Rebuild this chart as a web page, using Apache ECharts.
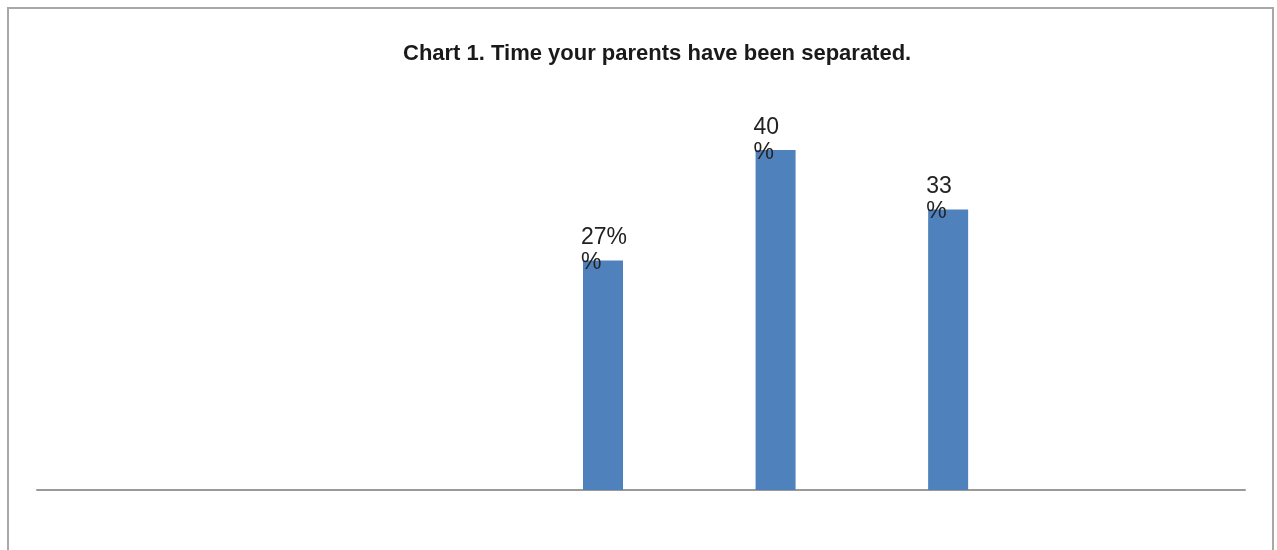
<!DOCTYPE html>
<html>
<head>
<meta charset="utf-8">
<script src="https://cdn.jsdelivr.net/npm/echarts@6/dist/echarts.min.js"></script>
<style>
html,body{margin:0;padding:0;background:#fff;}
#c{width:1277px;height:550px;}
</style>
</head>
<body>
<div id="c"></div>
<script>
var title = 'Chart 1. Time your parents have been separated.';
var categories = ['', '', '', '', '', '', ''];
var values = [null, null, null, 27, 40, 33, null];
var emptySeries = [null, null, null, null, null, null, null];
var labelTexts = ['', '', '', '27%\n%', '40\n%', '33\n%', ''];

var chart = echarts.init(document.getElementById('c'));
chart.setOption({
  animation: false,
  backgroundColor: '#ffffff',
  title: {
    text: title,
    left: 398,
    top: 38,
    textStyle: {fontFamily: 'Liberation Sans, Arial, sans-serif', fontWeight: 'bold', fontSize: 22, color: '#1a1a1a'}
  },
  graphic: [{
    type: 'rect',
    shape: {x: 8, y: 8, width: 1265, height: 600},
    style: {fill: 'none', stroke: '#a8a8a8', lineWidth: 2},
    silent: true
  }],
  grid: {left: 37, right: 32, top: 65, bottom: 60},
  xAxis: {
    type: 'category',
    data: categories,
    axisLine: {show: true, lineStyle: {color: '#9a9a9a', width: 2}},
    axisTick: {show: false},
    axisLabel: {show: false},
    splitLine: {show: false}
  },
  yAxis: {
    type: 'value',
    min: 0,
    max: 50,
    show: false,
    splitLine: {show: false}
  },
  series: [{
    type: 'bar',
    data: values,
    barWidth: 40,
    barGap: '90%',
    itemStyle: {color: '#4F81BD'},
    label: {
      show: true,
      position: [-2, -35],
      align: 'left',
      verticalAlign: 'top',
      fontFamily: 'Liberation Sans, Arial, sans-serif',
      fontSize: 23,
      lineHeight: 25,
      color: '#222',
      formatter: function (p) { return labelTexts[p.dataIndex]; }
    }
  }, {
    type: 'bar',
    data: emptySeries,
    barWidth: 40,
    itemStyle: {color: '#C0504D'}
  }]
});
</script>
</body>
</html>
